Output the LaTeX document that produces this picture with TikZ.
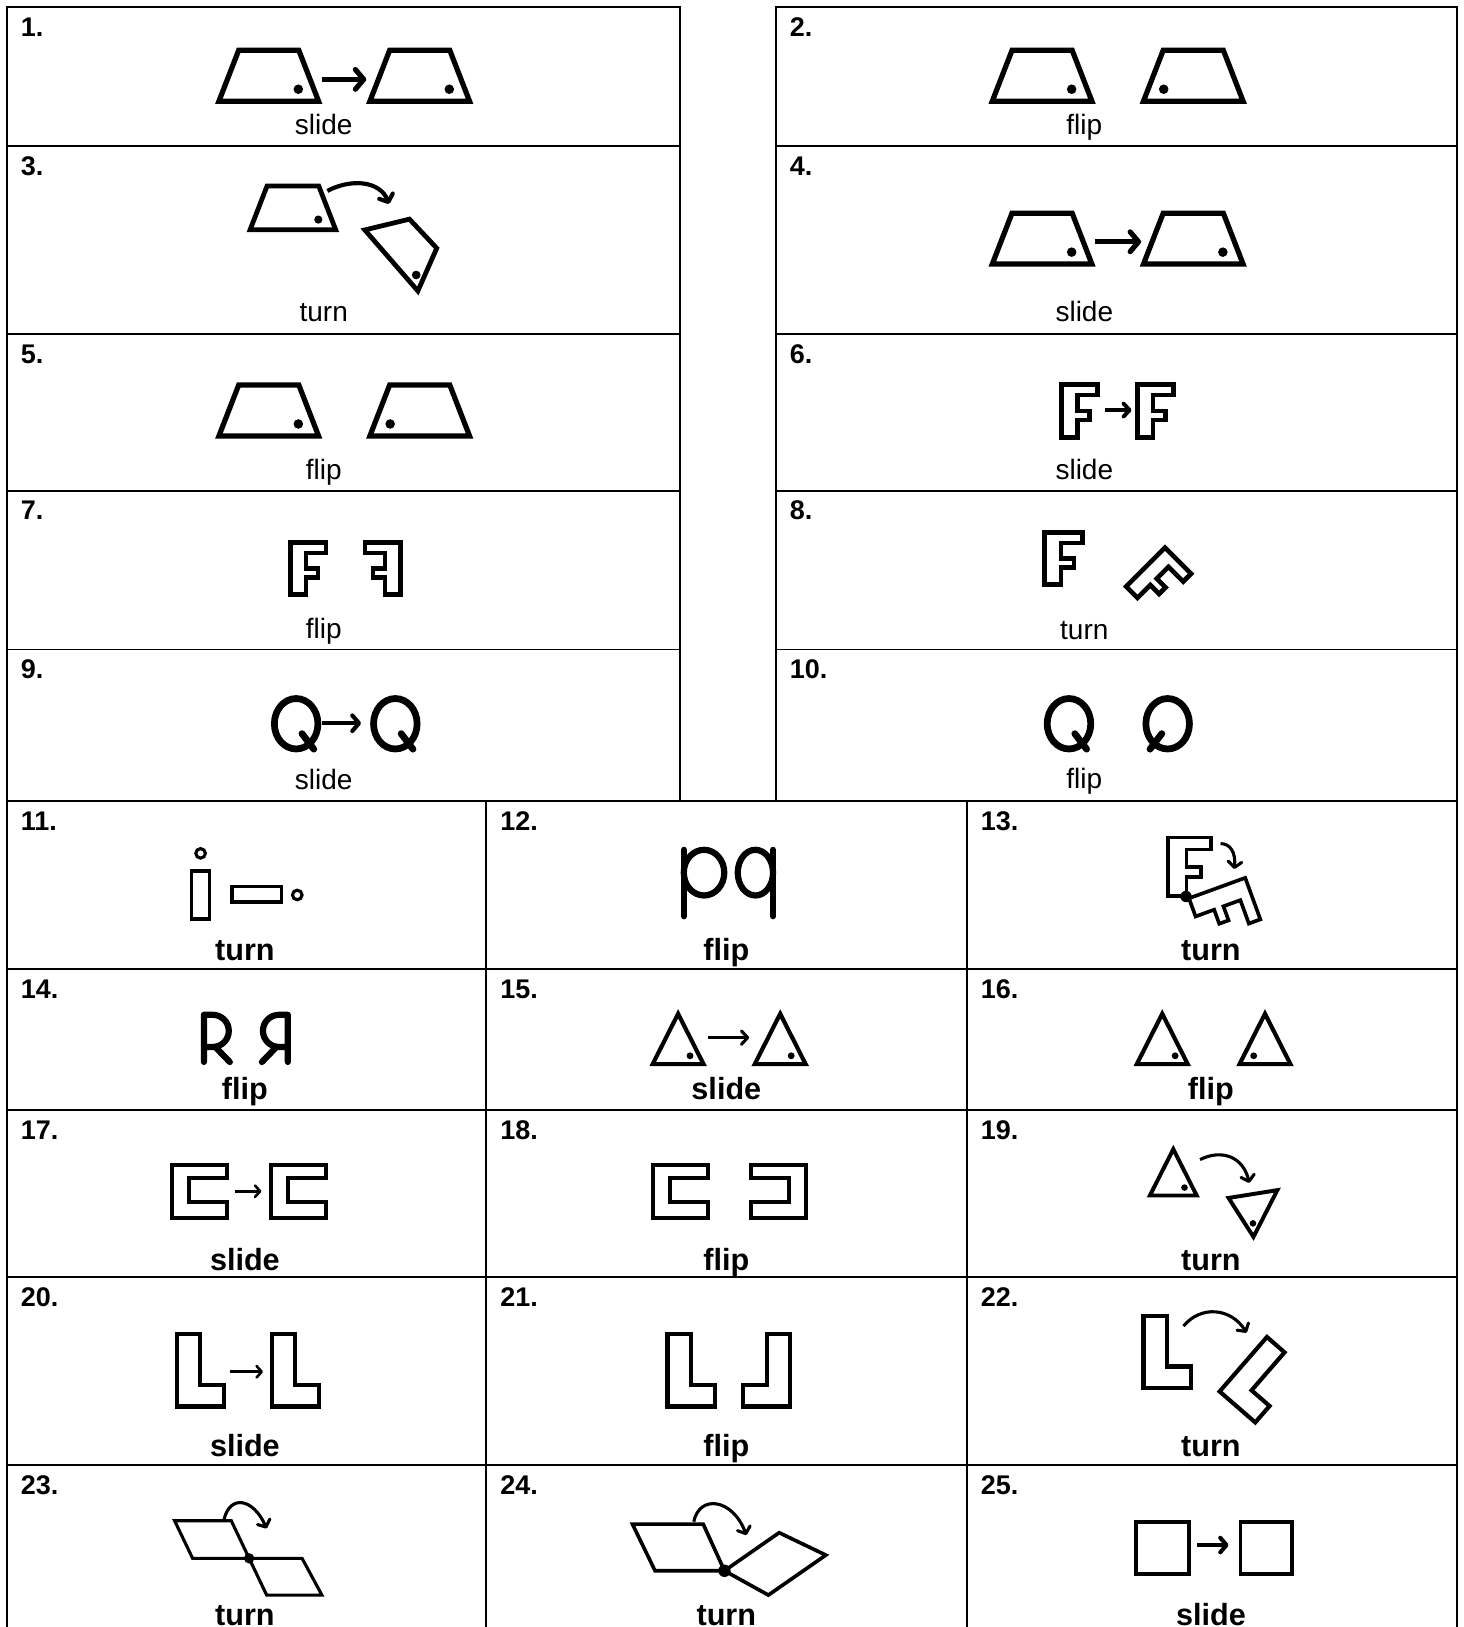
\documentclass[tikz,border=0pt]{standalone}
\usepackage{fontspec}
\setmainfont{Liberation Sans}
\usetikzlibrary{arrows.meta}
\tikzset{
  frame/.style={line width=1.8pt},
  lab/.style={font=\fontsize{27}{32}\selectfont, anchor=base, inner sep=0pt},
  blab/.style={font=\fontsize{29.5}{34}\selectfont\bfseries, anchor=base, inner sep=0pt},
  num/.style={font=\fontsize{26}{30}\selectfont\bfseries, anchor=base west, inner sep=0pt},
  arrA/.style={line width=5pt, -{Straight Barb[round,length=8pt,width=19pt]}},
  arrQ/.style={line width=4pt, -{Straight Barb[round,length=6.5pt,width=15pt]}},
  arrF/.style={line width=3.8pt, -{Straight Barb[round,length=6pt,width=13pt]}},
  arrT/.style={line width=3pt, -{Straight Barb[round,length=6pt,width=13pt]}},
  arrS/.style={line width=2.5pt, -{Straight Barb[round,length=5pt,width=11pt]}},
  arrSq/.style={line width=4pt, -{Straight Barb[round,length=6pt,width=14pt]}},
  cur/.style={line width=4pt, -{Straight Barb[round,length=6pt,width=14pt]}},
  curB/.style={line width=3pt, -{Straight Barb[round,length=5.5pt,width=13pt]}},
  trapR/.pic={\draw (0,0) -- (96,0) -- (77,-49) -- (19,-49) -- cycle; \fill (76.5,-11.5) circle[radius=4.6];},
  trapL/.pic={\draw (0,0) -- (96,0) -- (77,-49) -- (19,-49) -- cycle; \fill (19.5,-11.5) circle[radius=4.6];},
  Fsh/.pic={\draw (2.25,2.25) -- (37.75,2.25) -- (37.75,12.75) -- (17.75,12.75) -- (17.75,28.25) -- (29.75,28.25) -- (29.75,36.75) -- (17.75,36.75) -- (17.75,53.75) -- (2.25,53.75) -- cycle;},
  Lsh/.pic={\draw (2,2) -- (24.5,2) -- (24.5,50.5) -- (47.5,50.5) -- (47.5,71.5) -- (2,71.5) -- cycle;},
  Csh/.pic={\draw (2,2) -- (55,2) -- (55,14) -- (18.5,14) -- (18.5,37) -- (55,37) -- (55,53) -- (2,53) -- cycle;},
  Qsh/.pic={\draw (0,0) ellipse[x radius=21, y radius=24.3]; \draw[line cap=round] (5.6,9.5) -- (17,24.5);},
  Rsh/.pic={\draw[line cap=round, line join=round] (0,45.4) -- (0,0) -- (8.5,0) arc[start angle=-90, end angle=90, radius=15.5] -- (0,31); \draw[line cap=round] (11,31) -- (25,45.5);},
  Tri/.pic={\draw (24.5,0) -- (49,48.5) -- (0,48.5) -- cycle;}
}
\begin{document}
\begin{tikzpicture}[x=1pt,y=-1pt,line join=miter]
\useasboundingbox (0,0) rectangle (1410,1568);
\fill[white] (0,0) rectangle (1410,1568);

% ---------- frames ----------
\draw[frame] (6.5,6.5) rectangle (655,772);
\draw[frame] (748,6.5) rectangle (1404.5,772);
\foreach \y in {141,322,473,626} {\draw[frame] (6.5,\y) -- (655,\y); \draw[frame] (748,\y) -- (1404.5,\y);}
\draw[frame] (6.5,772) -- (1404.5,772);
\foreach \y in {934,1070,1231,1412} {\draw[frame] (6.5,\y) -- (1404.5,\y);}
\foreach \x in {6.5,468.5,932,1404.5} {\draw[frame] (\x,772) -- (\x,1580);}

% ---------- numbers ----------
\node[num] (n1) at (20,35) {1.};
\node[num] (n2) at (761,35) {2.};
\node[num] (n3) at (20,169) {3.};
\node[num] (n4) at (761,169) {4.};
\node[num] (n5) at (20,350) {5.};
\node[num] (n6) at (761,350) {6.};
\node[num] (n7) at (20,501) {7.};
\node[num] (n8) at (761,501) {8.};
\node[num] (n9) at (20,654) {9.};
\node[num] (n10) at (761,654) {10.};
\node[num] (n11) at (20,800) {11.};
\node[num] (n12) at (482,800) {12.};
\node[num] (n13) at (945,800) {13.};
\node[num] (n14) at (20,962) {14.};
\node[num] (n15) at (482,962) {15.};
\node[num] (n16) at (945,962) {16.};
\node[num] (n17) at (20,1098) {17.};
\node[num] (n18) at (482,1098) {18.};
\node[num] (n19) at (945,1098) {19.};
\node[num] (n20) at (20,1259) {20.};
\node[num] (n21) at (482,1259) {21.};
\node[num] (n22) at (945,1259) {22.};
\node[num] (n23) at (20,1440) {23.};
\node[num] (n24) at (482,1440) {24.};
\node[num] (n25) at (945,1440) {25.};

% ---------- labels ----------
\node[lab] (l1) at (312,130) {slide};
\node[lab] (l2) at (1045,130) {flip};
\node[lab] (l3) at (312,310) {turn};
\node[lab] (l4) at (1045,310) {slide};
\node[lab] (l5) at (312,462) {flip};
\node[lab] (l6) at (1045,462) {slide};
\node[lab] (l7) at (312,615) {flip};
\node[lab] (l8) at (1045,616.5) {turn};
\node[lab] (l9) at (312,761) {slide};
\node[lab] (l10) at (1045,760) {flip};
\node[blab] (l11) at (236,925.5) {turn};
\node[blab] (l12) at (700,925.5) {flip};
\node[blab] (l13) at (1167,925.5) {turn};
\node[blab] (l14) at (236,1060) {flip};
\node[blab] (l15) at (700,1060) {slide};
\node[blab] (l16) at (1167,1060) {flip};
\node[blab] (l17) at (236,1224) {slide};
\node[blab] (l18) at (700,1224) {flip};
\node[blab] (l19) at (1167,1224) {turn};
\node[blab] (l20) at (236,1404) {slide};
\node[blab] (l21) at (700,1404) {flip};
\node[blab] (l22) at (1167,1404) {turn};
\node[blab] (l23) at (236,1567) {turn};
\node[blab] (l24) at (700,1567) {turn};
\node[blab] (l25) at (1167,1567) {slide};

% ---------- panel 1 ----------
\pic[line width=5pt] at (211,97.5) {trapR};
\pic[line width=5pt] at (356.5,97.5) {trapR};
\draw[arrA] (310,76.5) -- (353,76.5);
% ---------- panel 2 ----------
\pic[line width=5pt] at (956.3,97.5) {trapR};
\pic[line width=5pt] at (1102,97.5) {trapL};
% ---------- panel 3 ----------
\pic[line width=4.6pt, scale=0.86] at (241,221.5) {trapR};
\draw[line width=4.6pt] (351.6,221.6) -- (394.6,211.2) -- (420.9,239.2) -- (402.7,280.4) -- cycle;
\fill (401.1,265) circle[radius=4.2];
\draw[cur] (315.5,184) .. controls (338,172) and (366,174) .. (375,196.5);
% ---------- panel 4 ----------
\pic[line width=5pt] at (956.3,254.5) {trapR};
\pic[line width=5pt] at (1102,254.5) {trapR};
\draw[arrA] (1055.3,233) -- (1099.7,233);
% ---------- panel 5 ----------
\pic[line width=5pt] at (211,420.1) {trapR};
\pic[line width=5pt] at (356.5,420.1) {trapL};
% ---------- panel 6 ----------
\pic[line width=4.5pt, xscale=0.975] at (1021,368) {Fsh};
\pic[line width=4.5pt, xscale=0.975] at (1094,368) {Fsh};
\draw[arrF] (1064.5,395.2) -- (1090.5,395.2);
% ---------- panel 7 ----------
\pic[line width=4.5pt, xscale=0.96, yscale=0.975] at (277.9,520.4) {Fsh};
\pic[line width=4.5pt, xscale=-0.96, yscale=0.975] at (388,520.4) {Fsh};
% ---------- panel 8 ----------
\pic[line width=4.5pt, xscale=1.04, yscale=0.975] at (1004,510.8) {Fsh};
\pic[line width=4.5pt, rotate=-45, xscale=1.0, yscale=1.03] at (1122.8,524.5) {Fsh};
% ---------- panel 9 ----------
\pic[line width=6.5pt] at (285.4,697.5) {Qsh};
\pic[line width=6.5pt] at (381,697.5) {Qsh};
\draw[arrQ] (310.6,697) -- (348,697);
% ---------- panel 10 ----------
\pic[line width=6.5pt] at (1030.2,697.5) {Qsh};
\pic[line width=6.5pt, xscale=-1] at (1125.3,697.5) {Qsh};
% ---------- panel 11 ----------
\draw[line width=3.5pt] (184.5,839.5) rectangle (202,885.5);
\draw[line width=3pt] (193.3,822.4) circle[radius=4.6];
\draw[line width=3.5pt] (223.75,854.5) rectangle (271.25,869.5);
\draw[line width=3pt] (286.5,862.5) circle[radius=4.6];
% ---------- panel 12 ----------
\draw[line width=6pt, line cap=round] (659,819) -- (659,883);
\draw[line width=6pt] (678.5,841) ellipse[x radius=19.5, y radius=22];
\draw[line width=6pt, line cap=round] (745,819) -- (745,883);
\draw[line width=6pt] (728,841) ellipse[x radius=17, y radius=22];
% ---------- panel 13 ----------
\pic[line width=3.5pt, xscale=1.165, yscale=1.095] at (1122.8,804.7) {Fsh};
\pic[line width=3.5pt, rotate=-70, xscale=1.2, yscale=1.12] at (1201.5,842.6) {Fsh};
\fill (1143,864) circle[radius=5.5];
\draw[curB] (1176.3,813) .. controls (1186,813) and (1191,822) .. (1189.5,837.5);
% ---------- panel 14 ----------
\pic[line width=6pt] at (196.5,978) {Rsh};
\pic[line width=6pt, xscale=-1] at (277.4,978) {Rsh};
% ---------- panel 15 ----------
\pic[line width=4pt] at (629,977) {Tri};
\fill (665,1017.5) circle[radius=3.3];
\draw[arrT] (682,1000) -- (722,1000);
\pic[line width=4pt] at (727.4,977) {Tri};
\fill (762.5,1017.5) circle[radius=3.3];
% ---------- panel 16 ----------
\pic[line width=4pt] at (1095.6,977) {Tri};
\fill (1132.5,1017.5) circle[radius=3.3];
\pic[line width=4pt] at (1194.6,977) {Tri};
\fill (1208.2,1017.5) circle[radius=3.3];
% ---------- panel 17 ----------
\pic[line width=4pt] at (163.7,1121) {Csh};
\draw[arrS] (226,1148) -- (252,1148);
\pic[line width=4pt] at (259,1121) {Csh};
% ---------- panel 18 ----------
\pic[line width=4pt] at (627.6,1121) {Csh};
\pic[line width=4pt, xscale=-1] at (779,1121) {Csh};
% ---------- panel 19 ----------
\pic[line width=3.8pt, scale=0.92] at (1108.2,1107.5) {Tri};
\fill (1141.5,1144.5) circle[radius=3.2];
\draw[line width=3.8pt] (1184,1154.5) -- (1231,1147) -- (1208,1192) -- cycle;
\fill (1207.5,1179) circle[radius=3.2];
\draw[curB] (1156.5,1117.5) .. controls (1178,1107) and (1198,1115) .. (1204,1140);
% ---------- panel 20 ----------
\pic[line width=4pt] at (168.3,1284) {Lsh};
\draw[arrS] (221.5,1322) -- (253.5,1322);
\pic[line width=4pt] at (260.2,1284) {Lsh};
% ---------- panel 21 ----------
\pic[line width=4pt] at (641.3,1284) {Lsh};
\pic[line width=4pt, xscale=-1] at (763.5,1284) {Lsh};
% ---------- panel 22 ----------
\pic[line width=4pt] at (1100,1266.4) {Lsh};
\pic[line width=4pt, rotate=-41] at (1220.8,1285.7) {Lsh};
\draw[curB] (1140.6,1278) .. controls (1157,1258) and (1186,1260) .. (1201.4,1284.4);
% ---------- panel 23 ----------
\draw[line width=3pt] (168.3,1465.6) -- (222.9,1465.6) -- (240.1,1501.8) -- (185.6,1501.8) -- cycle;
\draw[line width=3pt] (240.1,1501.8) -- (291.1,1501.8) -- (310.2,1537.2) -- (257,1537.2) -- cycle;
\fill (240.1,1501.8) circle[radius=5];
\draw[curB] (216,1464) .. controls (222,1440) and (244,1444) .. (257,1473);
% ---------- panel 24 ----------
\draw[line width=3.5pt] (609.5,1468.8) -- (677.7,1468.8) -- (698.2,1513.8) -- (631.3,1513.8) -- cycle;
\draw[line width=3.5pt] (698.2,1513.8) -- (750.9,1477.1) -- (795.9,1498.7) -- (740.5,1537.2) -- cycle;
\fill (698.2,1513.8) circle[radius=6];
\draw[curB] (668.6,1466.5) .. controls (674,1440) and (706,1444) .. (719.3,1479.4);
% ---------- panel 25 ----------
\draw[line width=3.5pt] (1095,1466.7) rectangle (1145.7,1517.2);
\draw[arrSq] (1154,1489) -- (1184,1489);
\draw[line width=3.5pt] (1195.5,1466.7) rectangle (1245.2,1517.2);
\end{tikzpicture}
\end{document}
